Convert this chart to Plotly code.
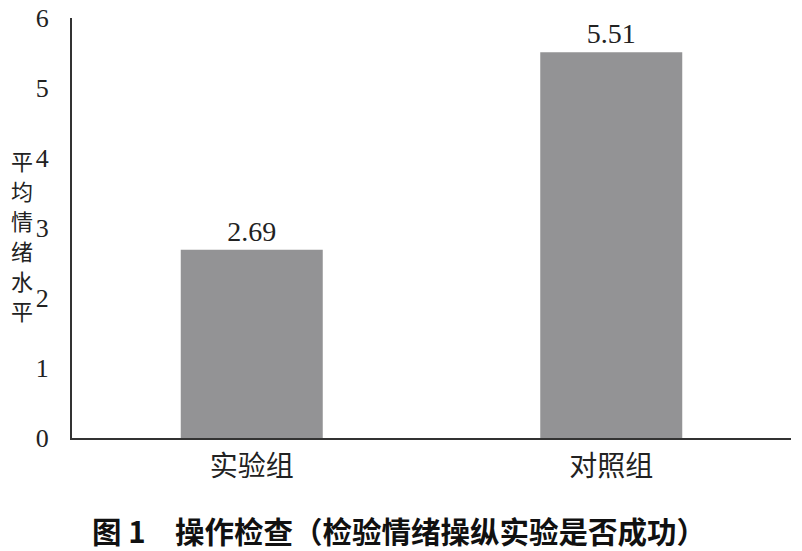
import plotly.graph_objects as go

groups = ["实验组", "对照组"]
means = [2.69, 5.51]
y_ticks = [0, 1, 2, 3, 4, 5, 6]
y_title = "平均情绪水平"
caption = "图 1　操作检查（检验情绪操纵实验是否成功）"

serif = "Liberation Serif, Times New Roman, serif"
cjk = "Noto Sans CJK SC, sans-serif"

fig = go.Figure()
fig.add_trace(go.Bar(
    x=groups, y=means,
    marker=dict(color="#939395", line=dict(width=0)),
    text=[f"{v:.2f}" for v in means],
    textposition="outside",
    textfont=dict(family=serif, size=28, color="#222222"),
    cliponaxis=False,
    width=0.395,
))

# plot area: x 72..791, y 18..438 (pixels)
def px_to_paper(x, y):
    return (x - 72) / 719, (438 - y) / 420

annotations = []
# vertical y title, one character stacked under the other
for i, ch in enumerate(y_title):
    ax, ay = px_to_paper(22, 160 + i * 30)
    annotations.append(dict(text=ch, x=ax, y=ay, xref="paper", yref="paper",
                            showarrow=False, font=dict(family=cjk, size=22, color="#222222"),
                            xanchor="center", yanchor="middle"))
cx, cy = px_to_paper(399, 530)
annotations.append(dict(text=f"<b>{caption}</b>", x=cx, y=cy, xref="paper", yref="paper",
                        showarrow=False, font=dict(family=cjk, size=29.5, color="#111111"),
                        xanchor="center", yanchor="middle"))

fig.update_layout(
    width=802, height=551,
    margin=dict(l=72, r=11, t=18, b=113),
    plot_bgcolor="white", paper_bgcolor="white",
    showlegend=False,
    xaxis=dict(
        showline=True, linecolor="#333333", linewidth=2,
        showgrid=False, ticks="", automargin=False,
        tickfont=dict(family=cjk, size=28, color="#222222"),
        ticklabelstandoff=2,
    ),
    yaxis=dict(
        range=[0, 6], tickvals=y_ticks, automargin=False,
        showline=True, linecolor="#333333", linewidth=2,
        showgrid=False, zeroline=False, ticks="",
        tickfont=dict(family=serif, size=26, color="#222222"),
        ticklabelstandoff=16,
    ),
    annotations=annotations,
)

# drop the default body margin so the figure sits at the page corner
fig.write_html("out.html", config={"displayModeBar": False},
               post_script="document.body.style.margin='0';")
